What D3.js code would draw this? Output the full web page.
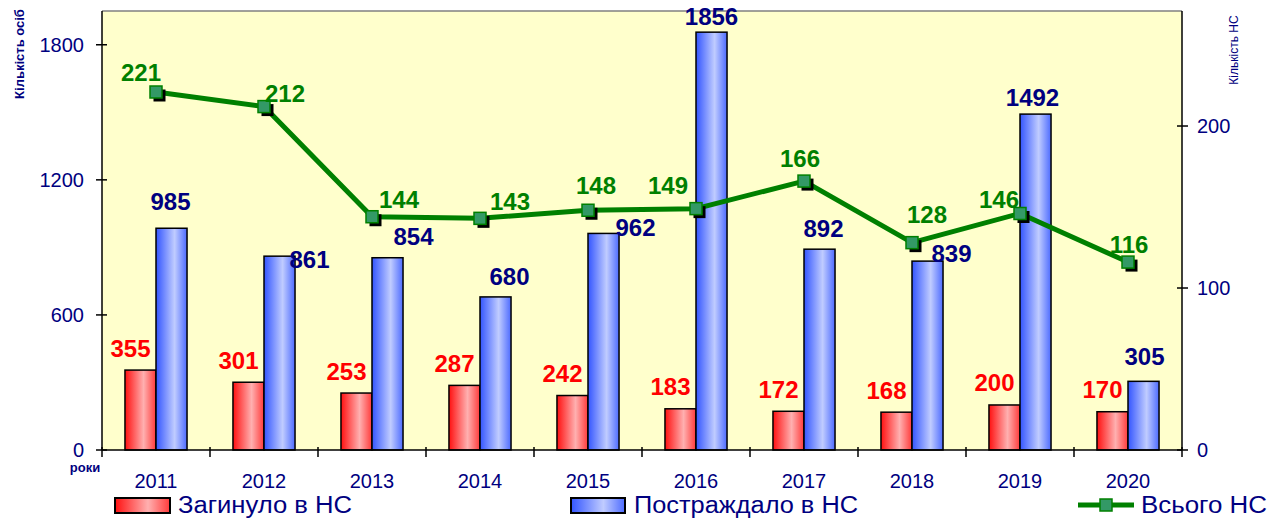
<!DOCTYPE html>
<html><head><meta charset="utf-8">
<script src="https://cdn.jsdelivr.net/npm/d3@7"></script>
<style>body{margin:0;background:#fff}svg{display:block}text{font-family:"Liberation Sans",Arial,sans-serif}</style>
</head><body><svg id="c" width="1279" height="520"></svg>
<script>
const years = ["2011","2012","2013","2014","2015","2016","2017","2018","2019","2020"];
const died = [355,301,253,287,242,183,172,168,200,170];
const injured = [985,861,854,680,962,1856,892,839,1492,305];
const totalNS = [221,212,144,143,148,149,166,128,146,116];
const leftTicks = [0,600,1200,1800];
const rightTicks = [0,100,200];
const seriesNames = ["Загинуло в НС","Постраждало в НС","Всього НС"];
// label nudges (layout only)
const injLabelDx = [-1,30,26,14,32,0,4,24,-3,1];
const injLabelDy = [-27,3,-21,-20,-6,-16,-21,-8,-17,-25];
const totLabelDx = [-15,21,27,30,8,-28,-4,15,-21,1];
const totLabelDy = [-19,-13,-17,-17,-25,-23,-23,-28,-14,-18];

const svg = d3.select("#c");
const L=102,R=1182,T=11,B=450;
const navy="#000080";
const defs=svg.append("defs");
function grad(id,stops){const g=defs.append("linearGradient").attr("id",id).attr("x1","0").attr("x2","1").attr("y1","0").attr("y2","0");
 stops.forEach(s=>g.append("stop").attr("offset",s[0]).attr("stop-color",s[1]));}
grad("gr",[["0%","#ff1010"],["60%","#ffb0b0"],["100%","#ff3a3a"]]);
grad("gb",[["0%","#3355ff"],["60%","#c0ccff"],["100%","#4d6bff"]]);

const x=d3.scaleBand().domain(years).range([L,R]).padding(0);
const xi=d3.scaleBand().domain(["d","i"]).range([0,x.bandwidth()]).paddingInner(0).paddingOuter(0.74);
const yL=d3.scaleLinear().domain([0,1950]).range([B,T]);
const yR=d3.scaleLinear().domain([0,271]).range([B,T]);

svg.append("rect").attr("x",L).attr("y",T).attr("width",R-L).attr("height",B-T).attr("fill","#ffffcc");
svg.append("line").attr("x1",L).attr("x2",R).attr("y1",T).attr("y2",T).attr("stroke","#808080").attr("stroke-width",1.5);

// bars
const g=svg.append("g");
years.forEach((yr,i)=>{
 g.append("rect").attr("x",x(yr)+xi("d")).attr("y",yL(died[i])).attr("width",xi.bandwidth()).attr("height",B-yL(died[i]))
  .attr("fill","url(#gr)").attr("stroke","#000").attr("stroke-width",1.5);
 g.append("rect").attr("x",x(yr)+xi("i")).attr("y",yL(injured[i])).attr("width",xi.bandwidth()).attr("height",B-yL(injured[i]))
  .attr("fill","url(#gb)").attr("stroke","#000").attr("stroke-width",1.5);
});

// axes lines
svg.append("line").attr("x1",L).attr("x2",L).attr("y1",T).attr("y2",B).attr("stroke","#000").attr("stroke-width",1.5);
svg.append("line").attr("x1",R).attr("x2",R).attr("y1",T).attr("y2",B).attr("stroke","#000").attr("stroke-width",1.5);
svg.append("line").attr("x1",L).attr("x2",R).attr("y1",B).attr("y2",B).attr("stroke","#000").attr("stroke-width",1.5);

leftTicks.forEach(t=>{
 svg.append("line").attr("x1",L-6).attr("x2",L+5).attr("y1",yL(t)).attr("y2",yL(t)).attr("stroke","#000").attr("stroke-width",1.5);
 svg.append("text").attr("x",84).attr("y",yL(t)+7).attr("text-anchor","end").attr("font-size",20).attr("fill",navy).text(t);
});
rightTicks.forEach(t=>{
 svg.append("line").attr("x1",R-5).attr("x2",R+6).attr("y1",yR(t)).attr("y2",yR(t)).attr("stroke","#000").attr("stroke-width",1.5);
 svg.append("text").attr("x",1197).attr("y",yR(t)+7).attr("text-anchor","start").attr("font-size",20).attr("fill",navy).text(t);
});
const bounds=years.map(y=>x(y)).concat([R]);
bounds.forEach(bx=>svg.append("line").attr("x1",bx).attr("x2",bx).attr("y1",B-3).attr("y2",B+7).attr("stroke","#000").attr("stroke-width",1.5));
years.forEach(yr=>svg.append("text").attr("x",x(yr)+x.bandwidth()/2).attr("y",488).attr("text-anchor","middle").attr("font-size",20).attr("fill",navy).text(yr));
svg.append("text").attr("x",85).attr("y",472).attr("text-anchor","middle").attr("font-size",13).attr("font-weight","bold").attr("fill",navy).text("роки");
svg.append("text").attr("transform","translate(24,54) rotate(-90)").attr("text-anchor","middle").attr("font-size",13).attr("font-weight","bold").attr("fill",navy).text("Кількість осіб");
svg.append("text").attr("transform","translate(1238,50) rotate(-90)").attr("text-anchor","middle").attr("font-size",12).attr("fill",navy).text("Кількість НС");

// line
const cx=yr=>x(yr)+x.bandwidth()/2;
const line=d3.line().x((d,i)=>cx(years[i])).y(d=>yR(d));
svg.append("path").attr("d",line(totalNS)).attr("fill","none").attr("stroke","#008000").attr("stroke-width",5).attr("stroke-linejoin","round");
totalNS.forEach((v,i)=>{
 const px=cx(years[i]),py=yR(v);
 svg.append("rect").attr("x",px-5.5+3).attr("y",py-5.5+3).attr("width",12).attr("height",12).attr("fill","#000");
 svg.append("rect").attr("x",px-6).attr("y",py-6).attr("width",12).attr("height",12).attr("fill","#339966").attr("stroke","#008000").attr("stroke-width",1.5);
});

// labels
const lab=(xx,yy,txt,col)=>svg.append("text").attr("x",xx).attr("y",yy+8.5).attr("text-anchor","middle").attr("font-size",24).attr("font-weight","bold").attr("fill",col).text(txt);
years.forEach((yr,i)=>{
 lab(x(yr)+xi("d")+xi.bandwidth()/2-10,yL(died[i])-22,died[i],"#ff0000");
 lab(x(yr)+xi("i")+xi.bandwidth()/2+injLabelDx[i],yL(injured[i])+injLabelDy[i],injured[i],navy);
 lab(cx(yr)+totLabelDx[i],yR(totalNS[i])+totLabelDy[i],totalNS[i],"#008000");
});

// legend
const lg=svg.append("g");
lg.append("rect").attr("x",115).attr("y",498).attr("width",55).attr("height",15).attr("fill","url(#gr)").attr("stroke","#000").attr("stroke-width",2);
lg.append("text").attr("x",178).attr("y",513).attr("font-size",23).attr("textLength",174).attr("lengthAdjust","spacingAndGlyphs").attr("fill",navy).text(seriesNames[0]);
lg.append("rect").attr("x",571).attr("y",498).attr("width",54).attr("height",15).attr("fill","url(#gb)").attr("stroke","#000").attr("stroke-width",2);
lg.append("text").attr("x",634).attr("y",513).attr("font-size",23).attr("textLength",224).attr("lengthAdjust","spacingAndGlyphs").attr("fill",navy).text(seriesNames[1]);
lg.append("line").attr("x1",1078).attr("x2",1134).attr("y1",505).attr("y2",505).attr("stroke","#008000").attr("stroke-width",5);
lg.append("rect").attr("x",1100).attr("y",499).attr("width",12).attr("height",12).attr("fill","#339966").attr("stroke","#008000").attr("stroke-width",1.5);
lg.append("text").attr("x",1141).attr("y",513).attr("font-size",23).attr("textLength",126).attr("lengthAdjust","spacingAndGlyphs").attr("fill",navy).text(seriesNames[2]);
</script></body></html>
